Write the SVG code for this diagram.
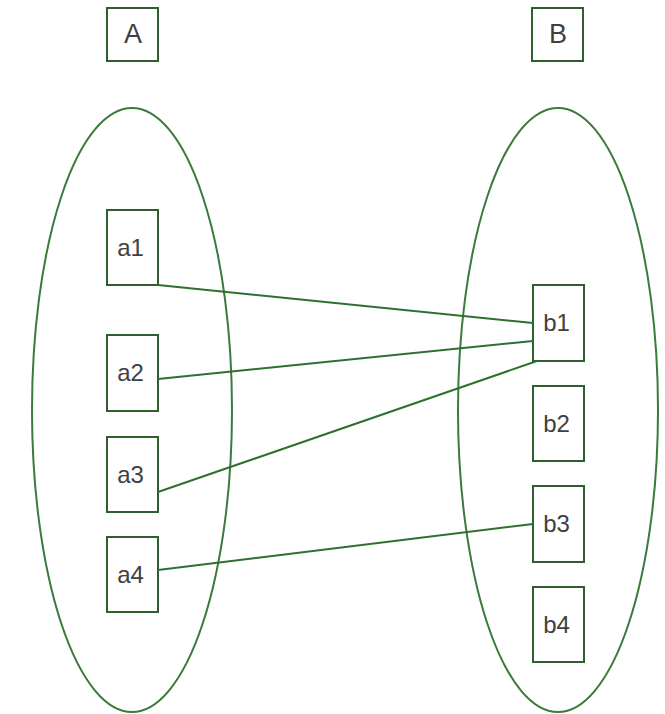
<svg xmlns="http://www.w3.org/2000/svg" width="665" height="714" viewBox="0 0 665 714">
<style>
.box{fill:none;stroke:#2f5f2f;stroke-width:2}
.ell{fill:none;stroke:#3b7a3b;stroke-width:2}
.lbl{font-family:"Liberation Sans",Arial,sans-serif;font-size:24px;fill:#404040;text-anchor:middle}
.big{font-size:27px}
.con{stroke:#2f6f2f;stroke-width:2;fill:none}
</style>
<rect width="665" height="714" fill="#ffffff"/>
<g id="setA"><ellipse class="ell" cx="132" cy="410" rx="100" ry="302"/></g>
<g id="setB"><ellipse class="ell" cx="558" cy="410" rx="100" ry="302"/></g>
<g id="A"><rect class="box" x="107" y="8" width="51" height="53"/><text class="lbl big" x="133" y="43">A</text></g>
<g id="B"><rect class="box" x="532" y="8" width="51" height="53"/><text class="lbl big" x="558" y="43">B</text></g>
<g id="a1"><rect class="box" x="107" y="210" width="51" height="75"/><text class="lbl" x="130.5" y="256">a1</text></g>
<g id="a2"><rect class="box" x="107" y="335" width="51" height="76"/><text class="lbl" x="130.5" y="381">a2</text></g>
<g id="a3"><rect class="box" x="107" y="437" width="51" height="75"/><text class="lbl" x="130.5" y="483">a3</text></g>
<g id="a4"><rect class="box" x="107" y="537" width="51" height="75"/><text class="lbl" x="130.5" y="583">a4</text></g>
<g id="b1"><rect class="box" x="533" y="285" width="51" height="76"/><text class="lbl" x="556.5" y="331">b1</text></g>
<g id="b2"><rect class="box" x="533" y="386" width="51" height="75"/><text class="lbl" x="556.5" y="432">b2</text></g>
<g id="b3"><rect class="box" x="533" y="486" width="51" height="76"/><text class="lbl" x="556.5" y="532">b3</text></g>
<g id="b4"><rect class="box" x="533" y="587" width="51" height="75"/><text class="lbl" x="556.5" y="633">b4</text></g>
<g id="connectors">
<line class="con" x1="158" y1="285" x2="533" y2="323"/>
<line class="con" x1="158" y1="379" x2="533" y2="341"/>
<line class="con" x1="158" y1="492" x2="537" y2="361"/>
<line class="con" x1="158" y1="570" x2="533" y2="524"/>
</g>
</svg>
